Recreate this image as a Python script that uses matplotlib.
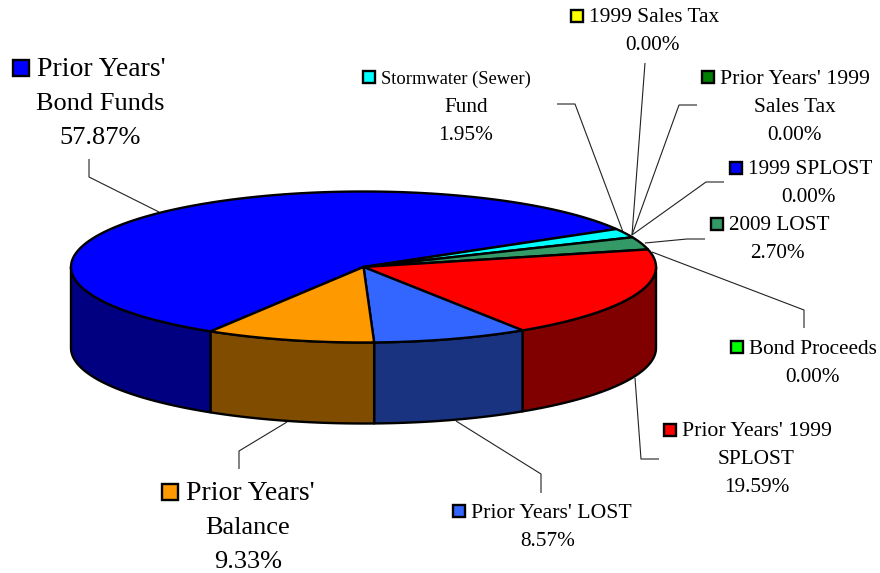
import numpy as np
import matplotlib
matplotlib.use("Agg")
import matplotlib.pyplot as plt
from matplotlib.patches import Polygon, Rectangle

plt.rcParams['font.family'] = ['Liberation Serif', 'DejaVu Serif']

# ---- data ----
categories = ["Prior Years' Bond Funds", "Stormwater (Sewer) Fund", "1999 Sales Tax",
              "Prior Years' 1999 Sales Tax", "1999 SPLOST", "2009 LOST", "Bond Proceeds",
              "Prior Years' 1999 SPLOST", "Prior Years' LOST", "Prior Years' Balance"]
values = [57.87, 1.95, 0.00, 0.00, 0.00, 2.70, 0.00, 19.59, 8.57, 9.33]
top_colors = ['#0000FF', '#00FFFF', '#FFFF00', '#008000', '#0000FF', '#339966', '#00FF00',
              '#FF0000', '#3366FF', '#FF9900']
side_colors = ['#000080', '#008080', '#808000', '#004000', '#000080', '#1A4D33', '#008000',
               '#800000', '#1A3380', '#804D00']
label_lines = [["Prior Years'", "Bond Funds"], ["Stormwater (Sewer)", "Fund"], ["1999 Sales Tax"],
               ["Prior Years' 1999", "Sales Tax"], ["1999 SPLOST"], ["2009 LOST"], ["Bond Proceeds"],
               ["Prior Years' 1999", "SPLOST"], ["Prior Years' LOST"], ["Prior Years'", "Balance"]]

# ---- layout (pixels) ----
CX, CY, RX, RY, DEPTH = 363.5, 267.0, 292.5, 75.5, 81.0
START = 121.5
BIG, SMALL = 19.0, 15.3
# first-line text left edge, first-line centre y, block centre x, font size, first-line size, line gap
label_pos = [(37, 70, 100, BIG, 20.0, 34), (381, 79, 466, SMALL, 13.3, 28), (589, 18, 653, SMALL, 15.4, 28),
             (720, 79, 795, SMALL, 15.7, 28), (748, 170, 808, SMALL, 15.3, 28), (729, 226, 777.5, SMALL, 15.3, 28),
             (749, 349, 813, SMALL, 15.3, 28), (682, 432, 756.5, SMALL, 15.7, 28), (471, 513, 548, SMALL, 15.7, 28),
             (186, 494, 248, BIG, 20.0, 34)]
leaders = [[(89, 159), (89, 177), (159, 212)],
           [(557, 104), (575, 104), (623, 232)],
           [(645, 63), (632, 235)],
           [(697, 105), (679, 105), (632, 235)],
           [(724, 182), (706, 182), (632, 235)],
           [(705, 239), (687, 239), (645, 243)],
           [(804, 328), (804, 310), (652, 252)],
           [(659, 459), (641, 459), (635, 378)],
           [(541, 493), (541, 474), (456, 421)],
           [(239, 469), (239, 451), (287, 422)]]

fig = plt.figure(figsize=(8.8, 5.73), dpi=100)
ax = fig.add_axes([0, 0, 1, 1])
ax.set_xlim(0, 880)
ax.set_ylim(573, 0)
ax.axis('off')

def pt(theta, dy=0.0):
    t = np.radians(theta)
    return CX + RX * np.cos(t), CY + RY * np.sin(t) + dy

vals = np.array(values, dtype=float)
spans = vals / vals.sum() * 360.0
starts = START + np.concatenate([[0], np.cumsum(spans)[:-1]])
LW = 1.7
EC = 'black'

# side walls: only the front half (theta in 0..180 mod 360) is visible
for s, sp, col in zip(starts, spans, side_colors):
    if sp <= 0:
        continue
    for offset in (0, 360, -360):
        a = max(s + offset, 0.0)
        b = min(s + sp + offset, 180.0)
        if b > a:
            th = np.linspace(a, b, 120)
            x, y = pt(th)
            xb, yb = pt(th[::-1], DEPTH)
            ax.add_patch(Polygon(np.r_[np.c_[x, y], np.c_[xb, yb]], closed=True,
                                 fc=col, ec=EC, lw=LW, joinstyle='round', zorder=2))

# top face
for s, sp, col in zip(starts, spans, top_colors):
    if sp <= 0:
        continue
    th = np.linspace(s, s + sp, max(int(sp * 3), 4))
    x, y = pt(th)
    ax.add_patch(Polygon(np.r_[[[CX, CY]], np.c_[x, y]], closed=True,
                         fc=col, ec=EC, lw=LW, joinstyle='round', zorder=3))

# leader lines
for pts in leaders:
    p = np.array(pts)
    ax.plot(p[:, 0], p[:, 1], color='#222222', lw=0.8, zorder=1, solid_capstyle='butt')

# labels
for lines, v, col, (x0, y0, xc, fs, fs1, gap) in zip(label_lines, values, top_colors, label_pos):
    ax.text(x0, y0, lines[0], fontsize=fs1, ha='left', va='center', color='black', zorder=5)
    k = 16 if fs == BIG else 12.5
    ax.add_patch(Rectangle((x0 - k - 8 + (2 if fs != BIG else 0), y0 - 2 - k / 2), k, k, fc=col, ec='black',
                           lw=1.7, zorder=5))
    rest = lines[1:] + [f"{v:.2f}%"]
    for i, t in enumerate(rest, start=1):
        ax.text(xc, y0 + i * gap, t, fontsize=fs, ha='center', va='center', color='black', zorder=5)

fig.savefig('out.png', dpi=100, facecolor='white')
